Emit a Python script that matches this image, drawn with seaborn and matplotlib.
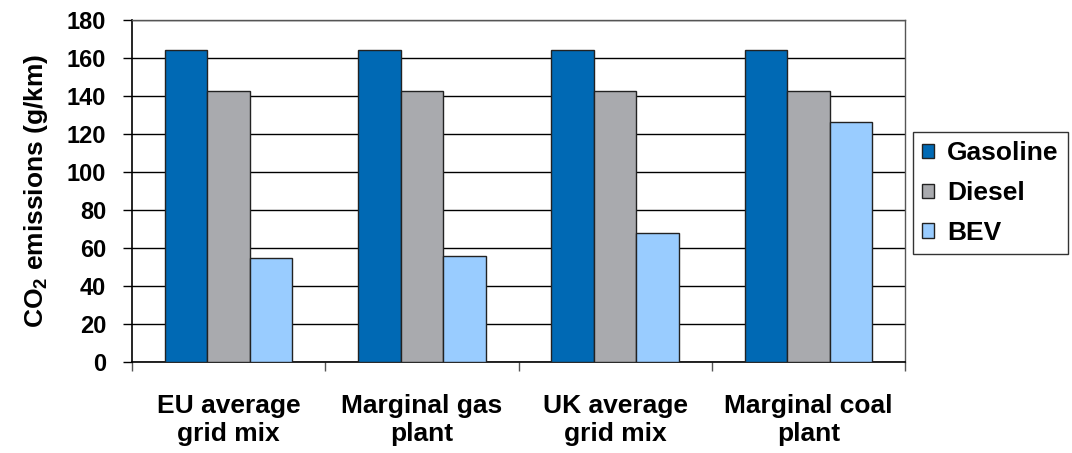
import pandas as pd
import numpy as np
import matplotlib.pyplot as plt
import seaborn as sns

# data
scenarios = ['EU average\ngrid mix', 'Marginal gas\nplant', 'UK average\ngrid mix', 'Marginal coal\nplant']
vehicles = ['Gasoline', 'Diesel', 'BEV']
gasoline = [164, 164, 164, 164]
diesel = [142.5, 142.5, 142.5, 142.5]
bev = [55, 56, 68, 126.5]

colors = ['#0069B4', '#A9AAAE', '#99CCFF']

df = pd.DataFrame({
    'scenario': scenarios * 3,
    'vehicle': [v for v in vehicles for _ in scenarios],
    'co2': gasoline + diesel + bev,
})

sns.set_style('white')
plt.rcParams['font.family'] = ['Liberation Sans', 'DejaVu Sans']
plt.rcParams['font.weight'] = 'bold'
plt.rcParams['text.color'] = 'black'
plt.rcParams['axes.labelcolor'] = 'black'
plt.rcParams['xtick.color'] = 'black'
plt.rcParams['ytick.color'] = 'black'
plt.rcParams['mathtext.fontset'] = 'custom'
plt.rcParams['mathtext.rm'] = 'Liberation Sans:bold'
plt.rcParams['mathtext.it'] = 'Liberation Sans:bold'
plt.rcParams['mathtext.bf'] = 'Liberation Sans:bold'

fig = plt.figure(figsize=(10.72, 4.53), dpi=100)
ax = fig.add_axes([132 / 1072, 1 - 362 / 453, (905 - 132) / 1072, (362 - 20) / 453])

sns.barplot(data=df, x='scenario', y='co2', hue='vehicle', hue_order=vehicles,
            palette=colors, width=0.66, gap=0, edgecolor='#222222', linewidth=1,
            saturation=1, ax=ax, zorder=3)

ax.set_ylim(0, 180)
ax.set_yticks(np.arange(0, 181, 20))
ax.set_xlim(-0.5, 3.5)
ax.yaxis.grid(True, color='black', linewidth=1, zorder=0)
ax.set_axisbelow(True)

ax.set_xticks(range(len(scenarios)))
ax.set_xticklabels(scenarios, linespacing=1.22, fontweight='bold')
ax.tick_params(axis='y', direction='out', length=6.5, width=1, color='black',
               labelsize=17, pad=12, left=True, labelcolor='black')
ax.tick_params(axis='x', which='major', length=0, labelsize=19, pad=23, labelcolor='black')
ax.set_xticks(np.arange(-0.5, 4, 1), minor=True)
ax.tick_params(axis='x', which='minor', direction='out', length=6.5, width=1, color='#555555', bottom=True)
for lbl in ax.get_yticklabels():
    lbl.set_fontweight('bold')

ax.set_xlabel('')
ax.set_ylabel('CO$_2$ emissions (g/km)', fontsize=19, fontweight='bold', labelpad=12, color='black')

for side in ['left', 'bottom']:
    ax.spines[side].set_color('black')
    ax.spines[side].set_linewidth(1.2)
for side in ['top', 'right']:
    ax.spines[side].set_color('#555555')
    ax.spines[side].set_linewidth(1)

ax.legend(loc='upper left', bbox_to_anchor=(913 / 1072, 1 - 132 / 453),
          bbox_transform=fig.transFigure, frameon=True, fancybox=False,
          edgecolor='black', handlelength=0.45, handleheight=0.45,
          handletextpad=0.5, labelspacing=0.6, borderpad=0.35, borderaxespad=0,
          prop={'weight': 'bold', 'size': 19})
ax.get_legend().get_frame().set_linewidth(1)

fig.savefig('out.png', dpi=100)
